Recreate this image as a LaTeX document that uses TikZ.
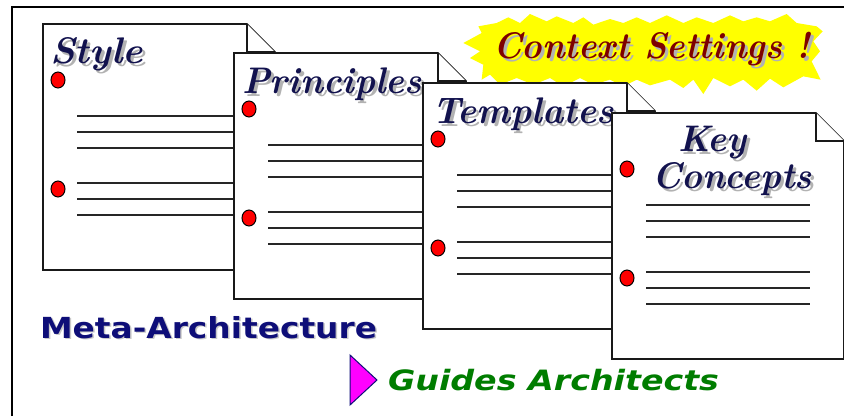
\documentclass[tikz,border=0pt]{standalone}
\usepackage{fontspec}
\newfontfamily\labelsans{DejaVu Sans}
\usetikzlibrary{calc}

\definecolor{titlenavy}{RGB}{18,18,78}
\definecolor{metanavy}{RGB}{14,14,120}
\definecolor{guidegreen}{RGB}{0,125,0}
\definecolor{ctxred}{RGB}{125,0,0}
\definecolor{shadowgray}{RGB}{178,178,178}
\definecolor{burstyellow}{RGB}{255,255,0}
\definecolor{arrowmagenta}{RGB}{255,0,255}

\tikzset{
  frameline/.style={draw=black, line width=2pt},
  page/.style={draw=black!90, fill=white, line width=1.7pt, line join=miter},
  rule/.style={draw=black!85, line width=1.8pt},
  bullet/.style={draw=black, fill=red, line width=1pt},
  lbl/.style={inner sep=0pt, outer sep=0pt, anchor=base west},
  serifhead/.style={lbl, font=\fontsize{37}{40}\selectfont\bfseries\itshape},
  sanshead/.style={lbl, font=\labelsans\fontsize{29}{32}\selectfont\bfseries},
  sansslant/.style={lbl, font=\labelsans\fontsize{28}{32}\selectfont\bfseries\itshape},
}

% one sheet of paper with a folded corner, two bullets and six rules
\newcommand\docpage[3]{%
  \begin{scope}[shift={(#2,#3)}]
    \path[page] (0,0) -- (204,0) -- (232,28) -- (232,246) -- (0,246) -- cycle;
    \path[page] (204,0) -- (204,28) -- (232,28);
    \foreach \k in {92,108,124,159,175,191}
      \draw[rule] (34,\k) -- (198,\k);
    \draw[bullet] (15,56) ellipse [x radius=7, y radius=8];
    \draw[bullet] (15,165) ellipse [x radius=7, y radius=8];
  \end{scope}}

% heading with a grey drop shadow
\newcommand\shadowlabel[6]{% name, style, colour, position, width, text
  \node[#2, text=shadowgray] (#1-shadow) at ($(#4)+(3,3)$) {\resizebox{#5}{\height}{#6}};
  \node[#2, text=#3] (#1) at (#4) {\resizebox{#5}{\height}{#6}};}

\begin{document}
\begin{tikzpicture}[x=1pt, y=-1pt]
  \useasboundingbox (0,0) rectangle (844,416);
  \fill[white] (0,0) rectangle (844,416);
  \draw[frameline] (12,416) -- (12,7) -- (844,7);

  % ragged yellow burst behind the banner text
  \begin{scope}[shift={(450,8)}, x=0.33333pt, y=-0.33333pt]
    \fill[burstyellow]
      (40,105) -- (95,75) -- (85,55) -- (140,45) -- (175,28) -- (210,45) -- (240,18)
      -- (290,40) -- (320,25) -- (370,45) -- (400,28) -- (430,50) -- (480,33)
      -- (520,45) -- (560,28) -- (600,45) -- (650,22) -- (700,45) -- (740,28)
      -- (790,45) -- (840,22) -- (880,40) -- (920,28) -- (960,40) -- (1010,18)
      -- (1040,45) -- (1100,55) -- (1118,70) -- (1090,100) -- (1110,130)
      -- (1085,160) -- (1112,215) -- (1060,205) -- (1000,238) -- (960,212)
      -- (920,248) -- (880,215) -- (840,235) -- (790,210) -- (760,258)
      -- (730,215) -- (700,240) -- (660,215) -- (600,232) -- (560,215)
      -- (520,235) -- (480,215) -- (430,230) -- (390,210) -- (340,235)
      -- (300,210) -- (250,230) -- (200,210) -- (150,230) -- (120,200)
      -- (95,215) -- (100,170) -- (60,150) -- (90,130) -- cycle;
  \end{scope}
  \shadowlabel{context}{serifhead}{ctxred}{493,58}{317pt}{Context Settings !}

  % the four sheets
  \docpage{style}{43}{24}
  \shadowlabel{styletitle}{serifhead}{titlenavy}{50,63}{93pt}{Style}
  \docpage{principles}{234}{53}
  \shadowlabel{principlestitle}{serifhead}{titlenavy}{242,93}{180pt}{Principles}
  \docpage{templates}{423}{83}
  \shadowlabel{templatestitle}{serifhead}{titlenavy}{432,123}{182pt}{Templates}
  \docpage{concepts}{612}{113}
  \shadowlabel{keytitle}{serifhead}{titlenavy}{678,151}{69pt}{Key}
  \shadowlabel{conceptstitle}{serifhead}{titlenavy}{652,188}{160pt}{Concepts}

  % captions
  \node[sanshead, text=shadowgray!70] (meta-shadow) at (41.5,339.5) {\resizebox{337pt}{\height}{Meta-Architecture}};
  \node[sanshead, text=metanavy] (meta) at (40,338) {\resizebox{337pt}{\height}{Meta-Architecture}};
  \fill[arrowmagenta, draw=metanavy, line width=1pt] (350,355) -- (377,380) -- (350,405) -- cycle;
  \node[sansslant, text=guidegreen] (guides) at (388,390) {\resizebox{331pt}{\height}{Guides Architects}};
\end{tikzpicture}
\end{document}
